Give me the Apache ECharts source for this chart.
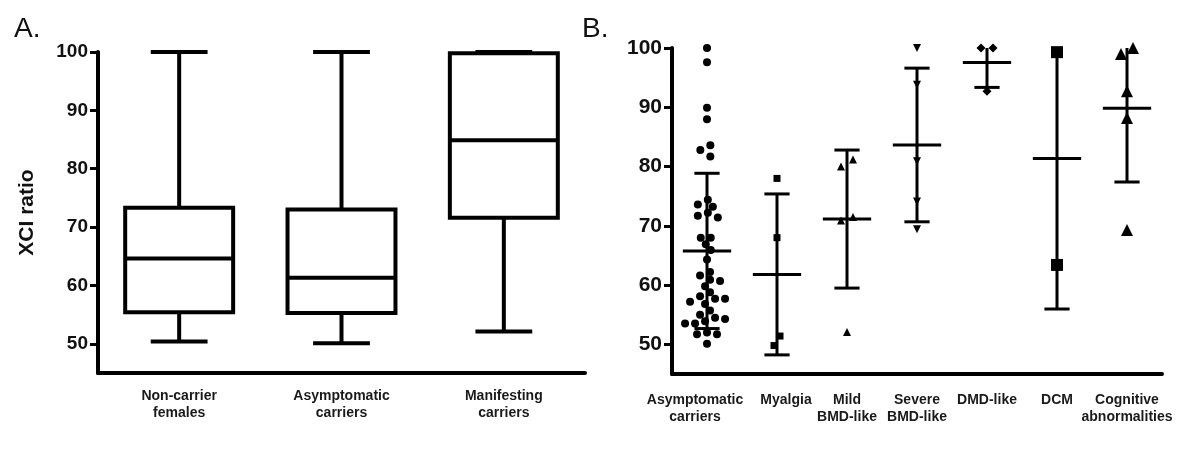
<!DOCTYPE html>
<html><head><meta charset="utf-8">
<script src="https://cdn.jsdelivr.net/npm/echarts@6/dist/echarts.min.js"></script>
<style>html,body{margin:0;padding:0;background:#fff}#c{width:1200px;height:452px}</style>
</head><body><div id="c"></div>
<script>
// ---- Panel A data (box plots) ----
const boxCategories = ['Non-carrier\nfemales', 'Asymptomatic\ncarriers', 'Manifesting\ncarriers'];
const boxMin    = [50.4, 50.1, 52.1];
const boxQ1     = [55.4, 55.3, 71.6];
const boxMedian = [64.6, 61.3, 84.9];
const boxQ3     = [73.3, 73.0, 99.8];
const boxMax    = [100, 100, 100];

const yTicks = [50, 60, 70, 80, 90, 100];

// ---- Panel B data (individual XCI ratios) ----
const groupCategories = ['Asymptomatic\ncarriers', 'Myalgia', 'Mild\nBMD-like', 'Severe\nBMD-like', 'DMD-like', 'DCM', 'Cognitive\nabnormalities'];
const asymptomatic = [100, 97.6, 89.9, 88.0, 83.6, 82.8, 81.7, 74.4, 73.6, 73.2,
                      72.2, 71.7, 71.4, 68.0, 68.0, 66.9, 65.9, 64.3, 62.2, 61.6,
                      60.9, 60.7, 59.8, 58.8, 58.1, 57.7, 57.7, 57.2, 56.8, 55.7,
                      55.0, 54.5, 54.3, 53.9, 53.5, 53.5, 52.0, 51.7, 51.7, 50.1];
const myalgia   = [78.0, 68.0, 51.4, 49.8];
const mildBMD   = [81.2, 80.0, 71.5, 70.9, 52.1];
const severeBMD = [100, 93.8, 80.9, 74.1, 69.4];
const dmdLike   = [100, 100, 92.7];
const dcm       = [99.3, 63.4];
const cognitive = [100, 99.0, 92.7, 88.2, 69.3];

const groups = [asymptomatic, myalgia, mildBMD, severeBMD, dmdLike, dcm, cognitive];
const groupSymbols = [
  {symbol: 'circle', size: 8, rotate: 0, dist: 7.5, step: 5},
  {symbol: 'rect', size: 7, rotate: 0, dist: 11, step: 6},
  {symbol: 'triangle', size: 8, rotate: 0, dist: 11, step: 6},
  {symbol: 'triangle', size: 8, rotate: 180, dist: 11, step: 6},
  {symbol: 'diamond', size: 9, rotate: 0, dist: 11, step: 6},
  {symbol: 'rect', size: 12, rotate: 0, dist: 13, step: 7},
  {symbol: 'triangle', size: 12, rotate: 0, dist: 13, step: 6}
];

const FONT = '"Liberation Sans", Arial, sans-serif';
const gridA = {left: 98, top: 52, width: 487, height: 321};
const gridB = {left: 672, top: 48, width: 490, height: 326};
const Y_MIN = 45, Y_MAX = 100;

function meanSd(v) {
  const m = v.reduce((s, x) => s + x, 0) / v.length;
  const sd = Math.sqrt(v.reduce((s, x) => s + (x - m) * (x - m), 0) / (v.length - 1));
  return [m, sd];
}

function swarmOffsets(vals, ppu, dist, step) {
  const n = vals.length, offs = new Array(n).fill(0), ys = vals.map(v => -v * ppu);
  const order = vals.map((_, i) => i).sort((a, b) => vals[b] - vals[a]);
  const placed = [];
  order.forEach(i => {
    for (let k = 0; k < 400; k++) {
      const o = (k % 2 ? -1 : 1) * Math.ceil(k / 2) * step;
      if (placed.every(j => (offs[j] - o) ** 2 + (ys[j] - ys[i]) ** 2 >= dist * dist)) { offs[i] = o; break; }
    }
    placed.push(i);
  });
  const comp = new Array(n).fill(-1); let c = 0;
  order.forEach((i, idx) => {
    if (idx > 0 && Math.abs(ys[i] - ys[order[idx - 1]]) < dist) comp[i] = comp[order[idx - 1]];
    else comp[i] = c++;
  });
  for (let k = 0; k < c; k++) {
    const mem = order.filter(i => comp[i] === k);
    const mean = mem.reduce((s, i) => s + offs[i], 0) / mem.length;
    mem.forEach(i => offs[i] -= mean);
  }
  return offs;
}

const ppuB = gridB.height / (Y_MAX - Y_MIN);
const scatterSeries = groups.map((vals, gi) => {
  const st = groupSymbols[gi];
  const offs = swarmOffsets(vals, ppuB, st.dist, st.step);
  return {
    type: 'scatter', xAxisIndex: 1, yAxisIndex: 1,
    symbol: st.symbol, symbolSize: st.size, symbolRotate: st.rotate,
    itemStyle: {color: '#000', opacity: 1},
    silent: true, z: 3,
    data: vals.map((v, i) => ({value: [gi, v], symbolOffset: [offs[i], 0]}))
  };
});

const errData = groups.map((vals, gi) => { const [m, s] = meanSd(vals); return [gi, m, s]; });

const boxData = boxCategories.map((c, i) => [i, boxMin[i], boxQ1[i], boxMedian[i], boxQ3[i], boxMax[i]]);

function line(x1, y1, x2, y2, w) {
  return {type: 'line', shape: {x1, y1, x2, y2}, style: {stroke: '#000', lineWidth: w, lineCap: 'butt'}};
}

const labelFont = {fontSize: 14, fontWeight: 'bold', color: '#1a1a1a', fontFamily: FONT, lineHeight: 17};
// the first two labels of panel B are nudged apart (as in the original) so they do not overlap
const richB = {
  n: Object.assign({}, labelFont),
  l: Object.assign({padding: [0, 24, 0, 0]}, labelFont),
  r: Object.assign({padding: [0, 0, 0, 18]}, labelFont)
};
const nudge = ['l', 'r', 'n', 'n', 'n', 'n', 'n'];

const chart = echarts.init(document.getElementById('c'), null, {renderer: 'canvas'});
chart.setOption({
  backgroundColor: '#fff',
  animation: false,
  textStyle: {fontFamily: FONT},
  graphic: [
    {type: 'text', left: 14, top: 15, style: {text: 'A.', font: '28px ' + FONT, fill: '#111'}},
    {type: 'text', left: 582, top: 15, style: {text: 'B.', font: '28px ' + FONT, fill: '#111'}}
  ],
  grid: [
    Object.assign({containLabel: false}, gridA),
    Object.assign({containLabel: false}, gridB)
  ],
  xAxis: [
    {
      gridIndex: 0, type: 'category', data: boxCategories,
      axisLine: {lineStyle: {color: '#000', width: 4}},
      axisTick: {alignWithLabel: true, length: 8, lineStyle: {color: '#000', width: 3}},
      axisLabel: {fontSize: 14, fontWeight: 'bold', color: '#1a1a1a', lineHeight: 16.5, margin: 15, fontFamily: FONT}
    },
    {
      gridIndex: 1, type: 'category', data: groupCategories,
      axisLine: {lineStyle: {color: '#000', width: 4}},
      axisTick: {alignWithLabel: true, length: 8, lineStyle: {color: '#000', width: 3}},
      axisLabel: {
        fontSize: 14, fontWeight: 'bold', color: '#1a1a1a', lineHeight: 17, margin: 17.5, interval: 0, fontFamily: FONT,
        formatter: function (value, index) {
          const k = nudge[index] || 'n';
          return value.split('\n').map(s => '{' + k + '|' + s + '}').join('\n');
        },
        rich: richB
      }
    }
  ],
  yAxis: [
    {
      gridIndex: 0, type: 'value', min: Y_MIN, max: Y_MAX,
      name: 'XCI ratio', nameLocation: 'middle', nameGap: 60, nameRotate: 90,
      nameTextStyle: {fontSize: 21, fontWeight: 'bold', color: '#111', fontFamily: FONT},
      splitLine: {show: false},
      axisLine: {show: true, lineStyle: {color: '#000', width: 4}},
      axisTick: {show: true, length: 8, customValues: yTicks, lineStyle: {color: '#000', width: 3}},
      axisLabel: {customValues: yTicks, fontSize: 19, fontWeight: 'bold', color: '#111', margin: 10, fontFamily: FONT}
    },
    {
      gridIndex: 1, type: 'value', min: Y_MIN, max: Y_MAX,
      splitLine: {show: false},
      axisLine: {show: true, lineStyle: {color: '#000', width: 4}},
      axisTick: {show: true, length: 8, customValues: yTicks, lineStyle: {color: '#000', width: 3}},
      axisLabel: {customValues: yTicks, fontSize: 21, fontWeight: 'bold', color: '#111', margin: 10, fontFamily: FONT}
    }
  ],
  series: [
    {
      type: 'custom', xAxisIndex: 0, yAxisIndex: 0, silent: true,
      encode: {x: 0, y: [1, 2, 3, 4, 5]},
      data: boxData,
      renderItem: function (params, api) {
        const i = api.value(0);
        const band = api.size([1, 0])[0];
        const cx = api.coord([i, api.value(3)])[0];
        const y = k => api.coord([i, api.value(k)])[1];
        const bw = band * 0.665, cw = band * 0.35;
        const yMin = y(1), yQ1 = y(2), yMed = y(3), yQ3 = y(4), yMax = y(5);
        return {
          type: 'group',
          children: [
            line(cx, yMax, cx, yQ3, 4),
            line(cx, yQ1, cx, yMin, 4),
            line(cx - cw / 2, yMax, cx + cw / 2, yMax, 4),
            line(cx - cw / 2, yMin, cx + cw / 2, yMin, 4),
            {type: 'rect', shape: {x: cx - bw / 2, y: yQ3, width: bw, height: yQ1 - yQ3},
             style: {fill: 'none', stroke: '#000', lineWidth: 4}},
            line(cx - bw / 2, yMed, cx + bw / 2, yMed, 4)
          ]
        };
      }
    },
    {
      type: 'custom', xAxisIndex: 1, yAxisIndex: 1, silent: true, z: 4,
      encode: {x: 0, y: 1},
      data: errData,
      renderItem: function (params, api) {
        const i = api.value(0), m = api.value(1), s = api.value(2);
        const band = api.size([1, 0])[0];
        const [cx, yM] = api.coord([i, m]);
        const hi = Math.min(m + s, Y_MAX), lo = Math.max(m - s, Y_MIN);
        const yHi = api.coord([i, hi])[1], yLo = api.coord([i, lo])[1];
        const mw = band * 0.69, cw = band * 0.36;
        const ch = [line(cx, yHi, cx, yLo, 3), line(cx - mw / 2, yM, cx + mw / 2, yM, 3)];
        if (m + s <= Y_MAX) ch.push(line(cx - cw / 2, yHi, cx + cw / 2, yHi, 3));
        if (m - s >= Y_MIN) ch.push(line(cx - cw / 2, yLo, cx + cw / 2, yLo, 3));
        return {type: 'group', children: ch};
      }
    }
  ].concat(scatterSeries)
});
</script>
</body></html>
